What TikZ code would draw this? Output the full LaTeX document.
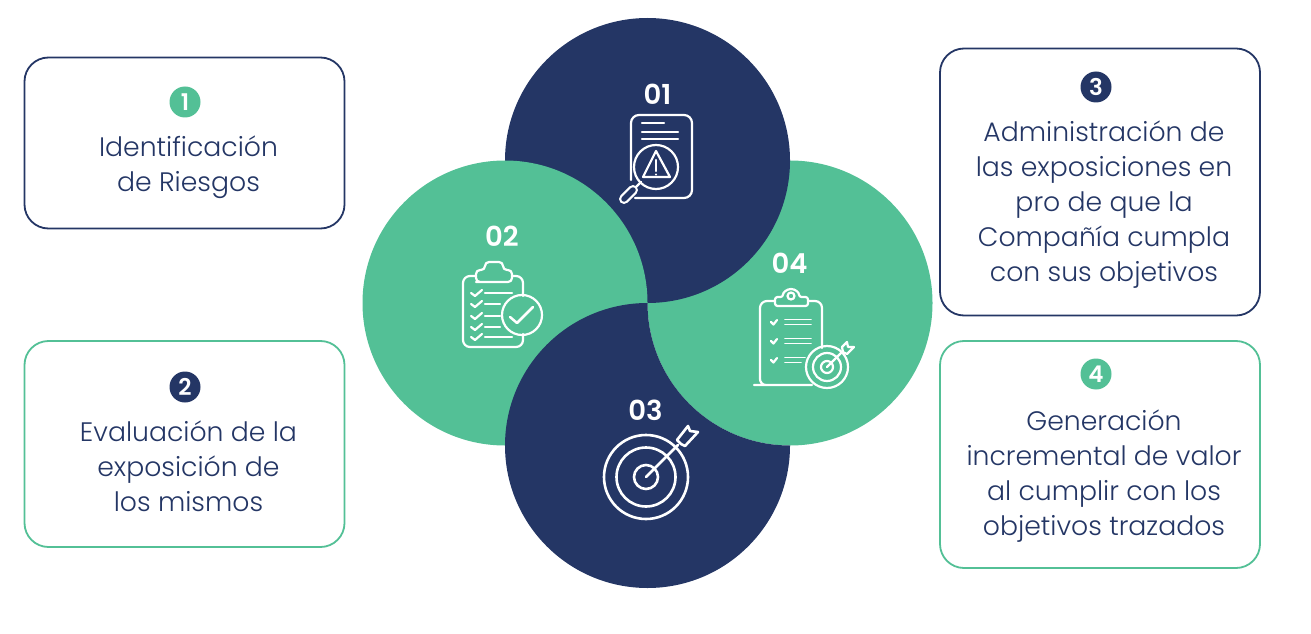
\documentclass[tikz,border=0pt]{standalone}
\usepackage{fontspec}
\setmainfont{Poppins}[UprightFont=* Light,BoldFont=* SemiBold]
\definecolor{navyc}{HTML}{243665}
\definecolor{greenc}{HTML}{53C096}
\tikzset{
  boxn/.style={draw=navyc,line width=1.8bp,rounded corners=24bp,fill=white,inner sep=0pt},
  boxg/.style={draw=greenc,line width=1.8bp,rounded corners=24bp,fill=white,inner sep=0pt},
  boxtext/.style={text=navyc,font=\fontsize{26.7bp}{35bp}\selectfont,align=center,inner sep=0pt},
  badge/.style={circle,minimum size=31bp,inner sep=0pt,text=white,font=\fontsize{23bp}{23bp}\selectfont\bfseries},
  numtext/.style={text=white,font=\fontsize{27.5bp}{28bp}\selectfont\bfseries,inner sep=0pt},
  ico/.style={draw=white,line width=2.2bp,line cap=round,line join=round},
}
\begin{document}
\begin{tikzpicture}[x=1bp,y=-1bp]
\useasboundingbox (0,0) rectangle (1311,634);
% circles
\fill[greenc] (790,303) circle (142.5);
\fill[navyc] (647.5,160.5) circle (142.5);
\fill[greenc] (505,303) circle (142.5);
\fill[navyc] (647.5,303) arc (-90:-360:142.5) arc (90:180:142.5) -- cycle;
% boxes
\node[boxn,minimum width=320bp,minimum height=171bp] (box1) at (184.5,143) {};
\node[boxg,minimum width=320bp,minimum height=206bp] (box2) at (184.5,444) {};
\node[boxn,minimum width=320bp,minimum height=267bp] (box3) at (1100,182) {};
\node[boxg,minimum width=320bp,minimum height=227bp] (box4) at (1100,454.5) {};
\node[badge,fill=greenc] (b1) at (185,102) {1};
\node[badge,fill=navyc] (b2) at (185,387) {2};
\node[badge,fill=navyc] (b3) at (1096,87) {3};
\node[badge,fill=greenc] (b4) at (1096,374) {4};
\node[boxtext] (t1) at (188.5,167) {Identificación\\de Riesgos};
\node[boxtext] (t2) at (188.5,466) {Evaluación de la\\exposición de\\los mismos};
\node[boxtext] (t3) at (1104,205) {Administración de\\las exposiciones en\\pro de que la\\Compañía cumpla\\con sus objetivos};
\node[boxtext] (t4) at (1104,476) {Generación\\incremental de valor\\al cumplir con los\\objetivos trazados};
% numbers
\node[numtext] (n1) at (657.5,94) {01};
\node[numtext] (n2) at (502,236) {02};
\node[numtext] (n3) at (645.5,410) {03};
\node[numtext] (n4) at (789.5,263) {04};
% icon 01
\draw[ico] (631,180) -- (631,123) arc (180:270:8) -- (684,115) arc (-90:0:8) -- (692,190) arc (0:90:8) -- (635,198);
\draw[ico] (642,123) -- (664,123) (642,132) -- (678,132) (642,139) -- (678,139);
\draw[ico] (656,167) circle (22);
\draw[ico] (656,151) -- (670,177) -- (643,177) -- cycle;
\draw[ico] (656,160) -- (656,171) (656,174.5) -- (656,174.5);
\draw[ico] (641,182) -- (633,190);
\draw[line width=10bp,white,line cap=round] (624,199) -- (633,190);
\draw[line width=5.5bp,navyc,line cap=round] (624,199) -- (633,190);
% icon 02
\draw[ico] (476,276) -- (470,276) arc (-90:-180:7) -- (463,340) arc (180:90:7) -- (516,347) arc (90:0:7) -- (523,334) (523,296) -- (523,283) arc (0:-90:7) -- (512,276);
\draw[ico,rounded corners=4bp] (480,282) -- (512,282) -- (512,270) -- (503,270) -- (503,262) -- (485,262) -- (485,270) -- (476,270) -- (476,282) -- cycle;
\foreach \y/\e in {293/512,304/500,316/500,327/500,337/512}{
  \draw[ico] (471,\y) -- (475,\y+3) -- (482,\y-3);
  \draw[ico] (485,\y) -- (\e,\y);
}
\draw[ico] (522,315) circle (20);
\draw[ico,line width=2.5bp] (510,317) -- (517,323) -- (533,307);
% icon 03
\draw[ico,line width=2.6bp] (646,477) circle (42);
\draw[ico,line width=2.6bp] (646,477) circle (29.5);
\draw[ico,line width=2.6bp] (646,477) circle (12);
\draw[ico,line width=2.6bp] (646,477) -- (678,445);
\draw[ico,line width=2.6bp] (677,440) -- (688,426) -- (690,431) -- (698,432) -- (685,446) -- (681,444) -- cycle;
% icon 04
\draw[ico] (775,301) -- (767,301) arc (-90:-180:7) -- (760,379) arc (180:90:6) (754,385) -- (812,385) (822,348) -- (822,308) arc (0:-90:7) -- (808,301);
\draw[ico,rounded corners=2.5bp] (775,306) -- (808,306) -- (808,297) -- (799,297) arc (0:-180:8) -- (775,297) -- cycle;
\draw[ico] (791,296) circle (3.5);
\foreach \y/\a/\b in {322/811/811,341/811/811,360/805/801}{
  \draw[ico] (771,\y) -- (773.5,\y+2.5) -- (777,\y-2);
  \draw[ico,line width=1.7bp] (785,\y-2.5) -- (\a,\y-2.5) (785,\y+2.5) -- (\b,\y+2.5);
}
\draw[ico] (827,367) circle (21);
\draw[ico] (827,367) circle (14);
\draw[ico] (827,367) circle (6);
\draw[ico] (827,367) -- (842,352);
\draw[ico] (842,347) -- (847,342) -- (848,347) -- (854,347) -- (847,354) -- (843,352) -- cycle;
\end{tikzpicture}
\end{document}
